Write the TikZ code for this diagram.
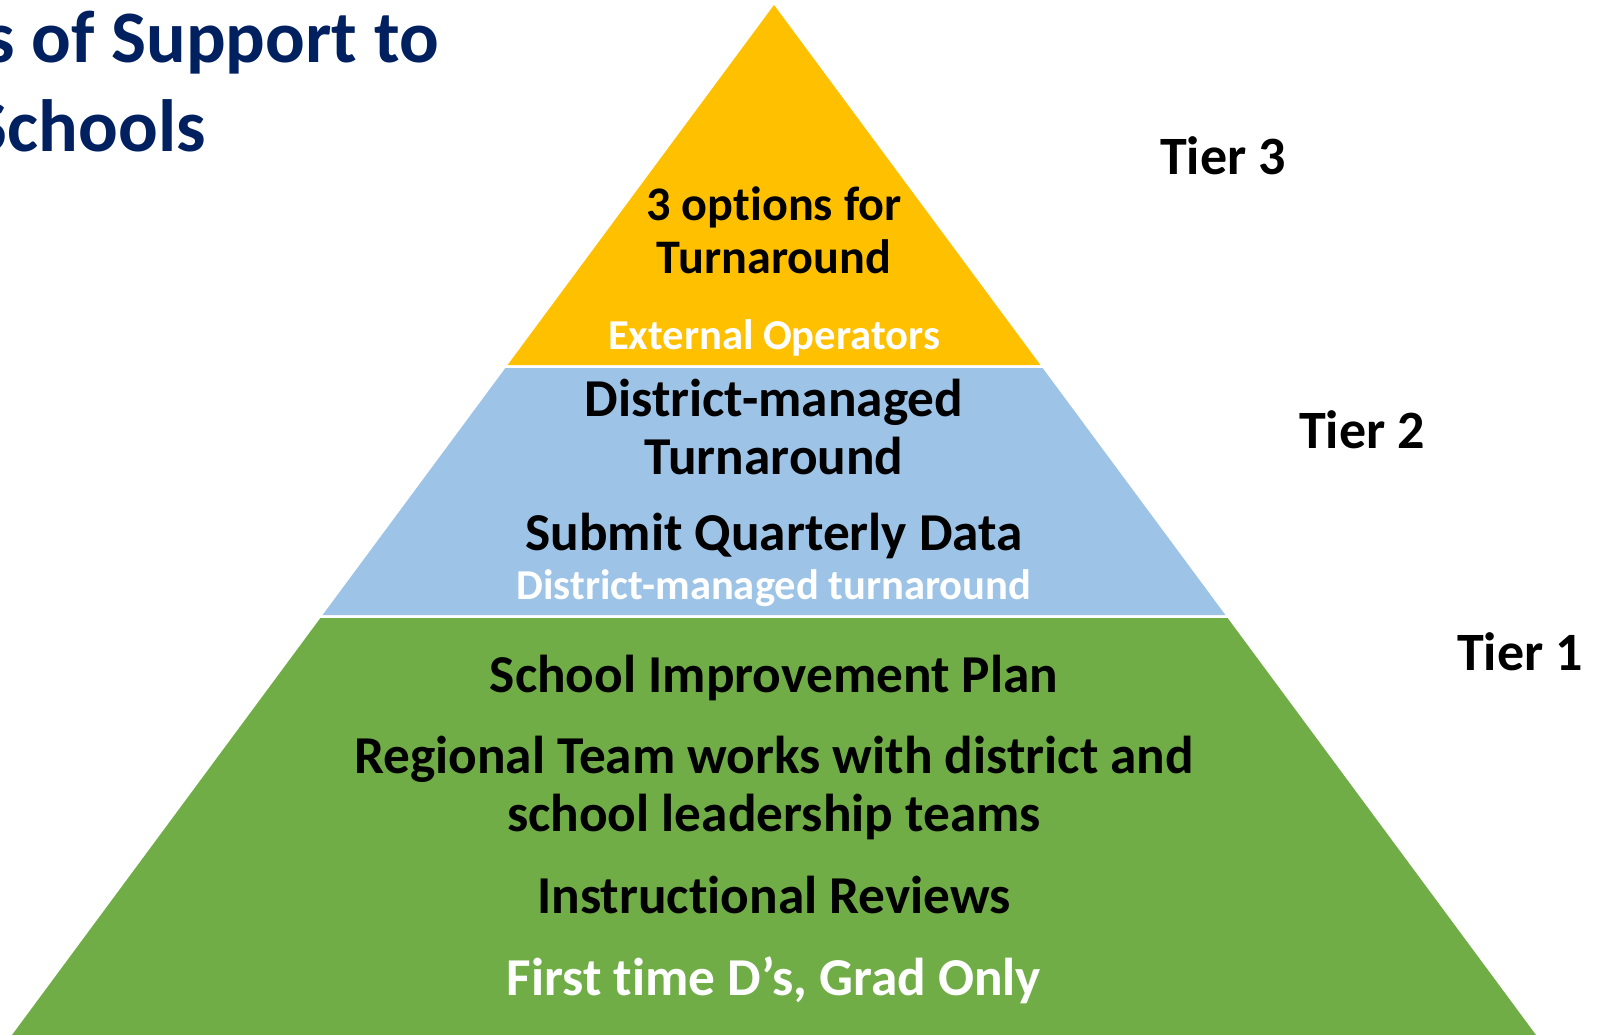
\documentclass[tikz,border=0pt]{standalone}
\usepackage{fontspec}
\setmainfont{Carlito}[Ligatures=NoCommon]
\usetikzlibrary{positioning}
\definecolor{tieryellow}{HTML}{FFC000}
\definecolor{tierblue}{HTML}{9DC3E6}
\definecolor{tiergreen}{HTML}{70AD47}
\definecolor{titleblue}{HTML}{002060}

\begin{document}
\begin{tikzpicture}[x=1pt,y=1pt]
                    \tikzstyle{every node}+=[inner sep=0pt]
                    \tikzstyle{bigtext}=[anchor=base, font=\fontsize{53.3}{64}\selectfont\bfseries]
                    \tikzstyle{toptext}=[anchor=base, font=\fontsize{48.2}{58}\selectfont\bfseries]
                    \tikzstyle{smalltext}=[anchor=base, white, font=\fontsize{42.6}{51}\selectfont\bfseries]
                    \tikzstyle{tierlabel}=[anchor=base west, font=\fontsize{54}{65}\selectfont\bfseries]
                    \tikzstyle{titletext}=[anchor=base east, titleblue, font=\fontsize{74}{89}\selectfont\bfseries]
                    \clip (0,0) rectangle (1603,-1035);
                    % pyramid bands
                    \fill [tieryellow] (774,-5) -- (1040.4,-365) -- (507.6,-365) -- cycle;
                    \fill [tierblue] (505.4,-368) -- (1042.6,-368) -- (1225.4,-615) -- (322.6,-615) -- cycle;
                    \fill [tiergreen] (320.4,-618) -- (1227.6,-618) -- (1536,-1035) -- (12,-1035) -- cycle;
                    % title
                    \node [titletext] (title1) at (439,-63) {s of Support to};
                    \node [titletext] (title2) at (206,-152) {Schools};
                    % tier 3
                    \node [toptext] (options) at (774,-220) {3 options for};
                    \node [toptext] (turn3) at (774,-273) {Turnaround};
                    \node [smalltext] (extop) at (774,-349) {External Operators};
                    % tier 2
                    \node [bigtext] (dmt) at (774,-416) {District-managed};
                    \node [bigtext] (turn2) at (774,-474) {Turnaround};
                    \node [bigtext] (quart) at (774,-550) {Submit Quarterly Data};
                    \node [smalltext] (dmturn) at (774,-599) {District-managed turnaround};
                    % tier 1
                    \node [bigtext] (sip) at (774,-692) {School Improvement Plan};
                    \node [bigtext] (regional) at (774,-773) {Regional Team works with district and};
                    \node [bigtext] (leader) at (774,-831) {school leadership teams};
                    \node [bigtext] (reviews) at (774,-913) {Instructional Reviews};
                    \node [bigtext, white] (firstd) at (774,-995) {First time D’s, Grad Only};
                    % tier labels
                    \node [tierlabel] (lab3) at (1160,-175) {Tier 3};
                    \node [tierlabel] (lab2) at (1299,-448) {Tier 2};
                    \node [tierlabel] (lab1) at (1457,-670) {Tier 1};
                \end{tikzpicture}
\end{document}
